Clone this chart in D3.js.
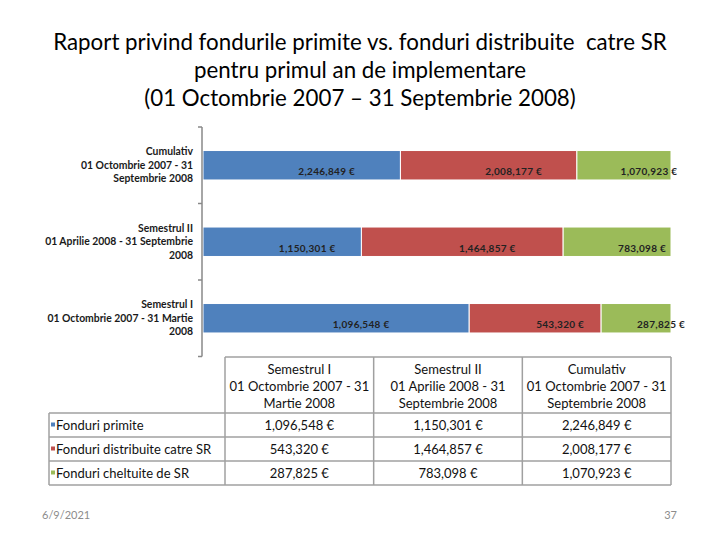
<!DOCTYPE html>
<html>
<head>
<meta charset="utf-8">
<script src="https://cdn.jsdelivr.net/npm/d3@7"></script>
<style>
	body { margin: 0; background: #fff; }
	svg { display: block; font-family: Lato, "Liberation Sans", sans-serif; }
</style>
</head>
<body>
<svg id="chart"></svg>
<script>
'use strict';

var WIDTH = 720,
	HEIGHT = 540;

// data
var titleLines = [
	'Raport privind fondurile primite vs. fonduri distribuite  catre SR',
	'pentru primul an de implementare',
	'(01 Octombrie 2007 \u2013 31 Septembrie 2008)'
];
var categories = ['Semestrul I', 'Semestrul II', 'Cumulativ'];
var axisLabels = [
	['Semestrul I', '01 Octombrie 2007 - 31 Martie', '2008'],
	['Semestrul II', '01 Aprilie 2008 - 31 Septembrie', '2008'],
	['Cumulativ', '01 Octombrie 2007 - 31', 'Septembrie 2008']
];
var tableHeaders = [
	['Semestrul I', '01 Octombrie 2007 - 31', 'Martie 2008'],
	['Semestrul II', '01 Aprilie 2008 - 31', 'Septembrie 2008'],
	['Cumulativ', '01 Octombrie 2007 - 31', 'Septembrie 2008']
];
var seriesNames = ['Fonduri primite', 'Fonduri distribuite catre SR', 'Fonduri cheltuite de SR'];
var fonduriPrimite = [1096548, 1150301, 2246849];
var fonduriDistribuite = [543320, 1464857, 2008177];
var fonduriCheltuite = [287825, 783098, 1070923];
var footerDate = '6/9/2021';
var footerPage = '37';

var blue = '#4f81bd',
	red = '#c0504d',
	green = '#9bbb59',
	gridGrey = '#a0a0a0',
	textColor = '#111';

var keys = ['primite', 'distribuite', 'cheltuite'];
var color = d3.scaleOrdinal().domain(keys).range([blue, red, green]);
var euro = function (v) { return d3.format(',')(v) + ' \u20ac'; };

var svg = d3.select('#chart')
	.attr('width', WIDTH)
	.attr('height', HEIGHT);

svg.append('rect')
	.attr('width', WIDTH)
	.attr('height', HEIGHT)
	.style('fill', '#fff');

// title, sized so the first line has the reference width
var title = svg.append('g').attr('text-anchor', 'middle');
title.selectAll('text')
	.data(titleLines)
	.enter()
	.append('text')
	.attr('x', WIDTH / 2)
	.attr('y', function (d, i) { return 50 + i * 28; })
	.style('font-size', '22px')
	.style('white-space', 'pre')
	.style('fill', '#000')
	.text(function (d) { return d; });
var firstLen = title.select('text').node().getComputedTextLength();
title.selectAll('text').style('font-size', (22 * 614 / firstLen) + 'px');

// stacked 100% bars
var rows = categories.map(function (c, i) {
	return {
		cat: c,
		primite: fonduriPrimite[i],
		distribuite: fonduriDistribuite[i],
		cheltuite: fonduriCheltuite[i]
	};
});

var stacked = d3.stack()
	.keys(keys)
	.offset(d3.stackOffsetExpand)(rows);

var x = d3.scaleLinear()
	.domain([0, 1])
	.range([203, 671]);

var pad = 0.615;
var y = d3.scaleBand()
	.domain(categories.slice().reverse())
	.range([127, 356.5])
	.paddingInner(pad)
	.paddingOuter(pad / 2);

var layers = svg.selectAll('.layer')
	.data(stacked)
	.enter()
	.append('g')
	.classed('layer', true)
	.style('fill', function (d) { return color(d.key); });

layers.selectAll('rect')
	.data(function (d) { return d; })
	.enter()
	.append('rect')
	.attr('x', function (d) { return x(d[0]); })
	.attr('width', function (d) { return x(d[1]) - x(d[0]); })
	.attr('y', function (d) { return y(d.data.cat); })
	.attr('height', y.bandwidth())
	.style('stroke', '#fff')
	.style('stroke-width', 1);

layers.each(function (layer) {
	d3.select(this).selectAll('text')
		.data(layer)
		.enter()
		.append('text')
		.attr('x', function (d) { return (x(d[0]) + x(d[1])) / 2 + 25; })
		.attr('y', function (d) { return y(d.data.cat) + y.bandwidth() / 2 + 10; })
		.attr('text-anchor', 'middle')
		.style('font-size', '10px')
		.style('font-weight', 'bold')
		.style('letter-spacing', '0.3px')
		.style('fill', '#222')
		.text(function (d) { return euro(d.data[layer.key]); });
});

// category axis: line with ticks on band boundaries
var axisX = 202;
var step = y.step();
var y0 = y.range()[0];
var bounds = d3.range(categories.length + 1).map(function (i) { return y0 + i * step; });

svg.append('line')
	.attr('x1', axisX).attr('x2', axisX)
	.attr('y1', bounds[0]).attr('y2', bounds[bounds.length - 1])
	.style('stroke', '#888')
	.style('stroke-width', 1.5);

svg.selectAll('.axis-tick')
	.data(bounds)
	.enter()
	.append('line')
	.classed('axis-tick', true)
	.attr('x1', axisX - 4).attr('x2', axisX)
	.attr('y1', function (d) { return d; })
	.attr('y2', function (d) { return d; })
	.style('stroke', '#888')
	.style('stroke-width', 1.5);

var catLabels = svg.selectAll('.cat-label')
	.data(categories)
	.enter()
	.append('text')
	.classed('cat-label', true)
	.attr('text-anchor', 'end')
	.style('font-size', '10.4px')
	.style('font-weight', 'bold')
	.style('fill', '#1a1a1a')
	.attr('transform', function (d) {
		return 'translate(193,' + (y(d) + y.bandwidth() / 2) + ')';
	});

catLabels.selectAll('tspan')
	.data(function (d, i) { return axisLabels[i]; })
	.enter()
	.append('tspan')
	.attr('x', 0)
	.attr('y', function (d, i) { return -10 + i * 13.5; })
	.text(function (d) { return d; });

// data table
var col = d3.scaleBand()
	.domain(categories)
	.range([225, 671]);

var tableLeft = 49,
	headTop = 357,
	headBottom = 413,
	rowH = 24;

var rowY = d3.scaleBand()
	.domain(seriesNames)
	.range([headBottom, headBottom + rowH * seriesNames.length]);

var tableBottom = rowY.range()[1];
var table = svg.append('g');

// header borders
table.append('line')
	.attr('x1', col.range()[0]).attr('x2', col.range()[1])
	.attr('y1', headTop).attr('y2', headTop);
table.selectAll('.hline')
	.data(seriesNames.concat(['end']))
	.enter()
	.append('line')
	.attr('x1', tableLeft).attr('x2', col.range()[1])
	.attr('y1', function (d, i) { return headBottom + i * rowH; })
	.attr('y2', function (d, i) { return headBottom + i * rowH; });
table.append('line')
	.attr('x1', tableLeft).attr('x2', tableLeft)
	.attr('y1', headBottom).attr('y2', tableBottom);
table.selectAll('.vline')
	.data(categories.concat(['end']))
	.enter()
	.append('line')
	.attr('x1', function (d, i) { return col.range()[0] + i * col.step(); })
	.attr('x2', function (d, i) { return col.range()[0] + i * col.step(); })
	.attr('y1', headTop).attr('y2', tableBottom);
table.selectAll('line')
	.style('stroke', gridGrey)
	.style('stroke-width', 1.5);

var heads = table.selectAll('.head')
	.data(categories)
	.enter()
	.append('text')
	.attr('text-anchor', 'middle')
	.style('font-size', '13px')
	.style('fill', textColor)
	.attr('transform', function (d) {
		return 'translate(' + (col(d) + col.bandwidth() / 2) + ',' + headTop + ')';
	});

heads.selectAll('tspan')
	.data(function (d, i) { return tableHeaders[i]; })
	.enter()
	.append('tspan')
	.attr('x', 0)
	.attr('y', function (d, i) { return 16.5 + i * 17; })
	.text(function (d) { return d; });

var seriesValues = [fonduriPrimite, fonduriDistribuite, fonduriCheltuite];

var tRows = table.selectAll('.trow')
	.data(seriesNames)
	.enter()
	.append('g')
	.attr('transform', function (d) { return 'translate(0,' + (rowY(d) + rowY.bandwidth() / 2) + ')'; });

tRows.append('rect')
	.attr('x', 51)
	.attr('y', -2.5)
	.attr('width', 4)
	.attr('height', 4)
	.style('fill', function (d, i) { return color(keys[i]); });

tRows.append('text')
	.attr('x', 56)
	.attr('y', 4.5)
	.style('font-size', '13px')
	.style('fill', textColor)
	.text(function (d) { return d; });

tRows.each(function (name, si) {
	d3.select(this).selectAll('.cell')
		.data(seriesValues[si])
		.enter()
		.append('text')
		.attr('x', function (d, i) { return col(categories[i]) + col.bandwidth() / 2; })
		.attr('y', 4.5)
		.attr('text-anchor', 'middle')
		.style('font-size', '13px')
		.style('fill', textColor)
		.text(function (d) { return euro(d); });
});

// footer
svg.append('text')
	.attr('x', 42)
	.attr('y', 519)
	.style('font-size', '11px')
	.style('fill', '#8c8c8c')
	.text(footerDate);

svg.append('text')
	.attr('x', 677)
	.attr('y', 519)
	.attr('text-anchor', 'end')
	.style('font-size', '11px')
	.style('fill', '#8c8c8c')
	.text(footerPage);
</script>
</body>
</html>
